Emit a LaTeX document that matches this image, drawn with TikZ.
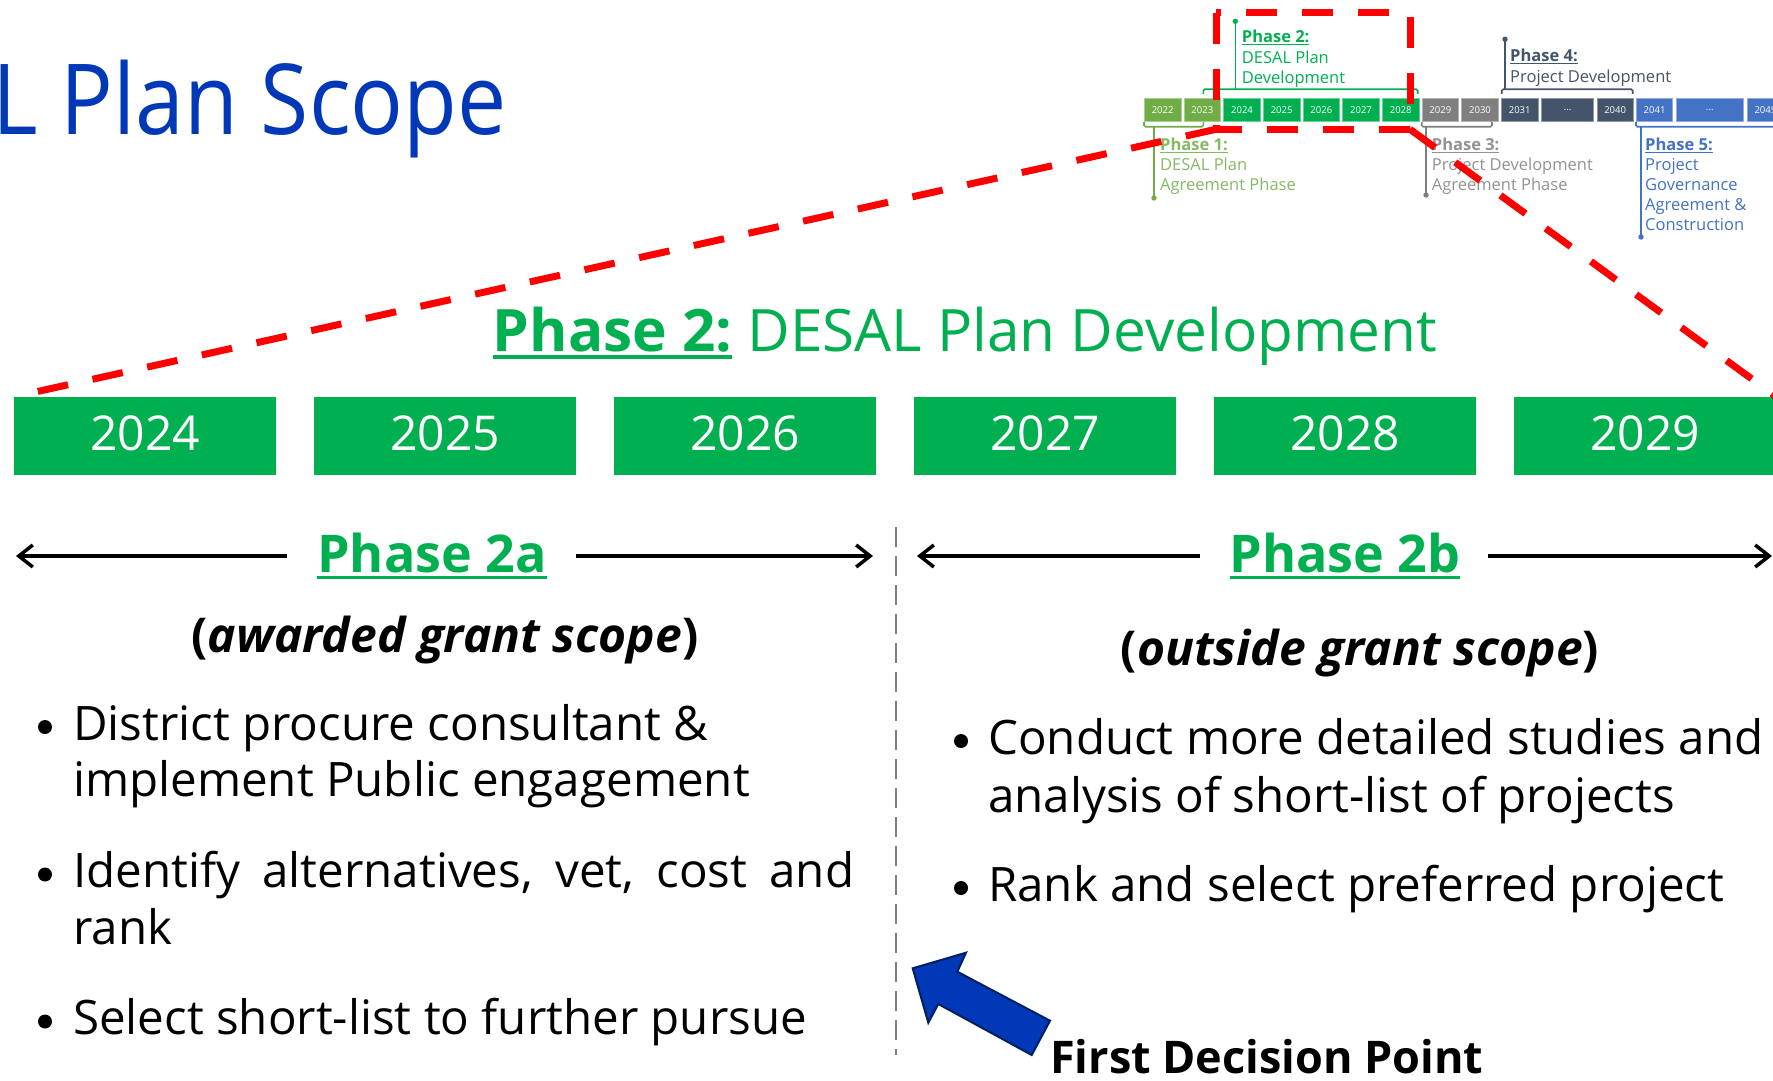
\documentclass[tikz,border=0pt]{standalone}
\usepackage{fontspec}
\setmainfont{Open Sans}
\usepackage{graphicx}
\usetikzlibrary{arrows.meta}
\definecolor{pgreen}{RGB}{0,176,80}
\definecolor{pholive}{RGB}{112,173,71}
\definecolor{mgray}{RGB}{127,127,127}
\definecolor{slate}{RGB}{68,84,106}
\definecolor{mblue}{RGB}{68,114,196}
\definecolor{tblue}{RGB}{0,56,184}
\definecolor{navy}{RGB}{0,32,96}
\newcommand\myul[1]{\setbox0=\hbox{#1}\rlap{\rule[-0.13em]{\wd0}{0.055em}}\box0\relax}
\begin{document}
\begin{tikzpicture}[x=1pt,y=-1pt,
  yearbox/.style={fill=pgreen, text=white, minimum width=262pt, minimum height=78pt, inner sep=0pt, font=\fontsize{48}{58}\selectfont, text depth=6pt},
  mbox/.style={minimum height=22.5pt, inner sep=0pt, anchor=west, text=white, font=\fontsize{9.5}{11}\selectfont, fill=#1, draw=#1!60!white, line width=0.8pt},
  mlab/.style={anchor=base west, inner sep=0pt, font=\fontsize{16.5}{20}\selectfont},
  body/.style={anchor=base west, inner sep=0pt, font=\fontsize{47.5}{57}\selectfont},
  bul/.style={circle, fill=black, inner sep=0pt, minimum size=14pt},
  harrow/.style={line width=3.5pt, -{Straight Barb[length=14pt,width=22pt]}},
  reddash/.style={red, line width=7pt, dash pattern=on 31pt off 25pt},
  stem/.style={line width=1.6pt},
  bracket/.style={line width=1.6pt, rounded corners=1.5pt},
]
\useasboundingbox (0,0) rectangle (1773,1081);
\fill[white] (0,0) rectangle (1773,1081);

% ---------- mini timeline ----------
\foreach \yr/\c [count=\i from 0] in {2022/pholive,2023/pholive,2024/pgreen,2025/pgreen,2026/pgreen,2027/pgreen,2028/pgreen,2029/mgray,2030/mgray,2031/slate}
  \node[mbox=\c, minimum width=36.5pt] (m\yr) at ({1144+39.67*\i},109.75) {\yr};
\node[mbox=slate, minimum width=52.3pt] (mdots1) at (1541,109.75) {...};
\node[mbox=slate, minimum width=36pt] (m2040) at (1596.7,109.75) {2040};
\node[mbox=mblue, minimum width=36.3pt] (m2041) at (1636,109.75) {2041};
\node[mbox=mblue, minimum width=66.7pt] (mdots2) at (1676,109.75) {...};
\node[mbox=mblue, minimum width=36.5pt] (m2045) at (1746.7,109.75) {2045};

% brackets and stems
\draw[bracket, pgreen] (1203.3,94) -- (1203.3,89.3) -- (1417.7,89.3) -- (1417.7,94);
\draw[stem, pgreen] (1235.3,89.3) -- (1235.3,21.3);
\fill[pgreen] (1235.3,21.3) circle (2.7);
\draw[bracket, pholive] (1144,122) -- (1144,126.7) -- (1203.3,126.7) -- (1203.3,122);
\draw[stem, pholive] (1154,126.7) -- (1154,198);
\fill[pholive] (1154,198) circle (2.7);
\draw[bracket, mgray] (1421.7,122) -- (1421.7,126.7) -- (1492,126.7) -- (1492,122);
\draw[stem, mgray] (1426,126.7) -- (1426,195);
\fill[mgray] (1426,195) circle (2.7);
\draw[bracket, slate] (1501.7,94) -- (1501.7,89.3) -- (1632.7,89.3) -- (1632.7,94);
\draw[stem, slate] (1505,89.3) -- (1505,39.3);
\fill[slate] (1505,39.3) circle (2.7);
\draw[bracket, mblue] (1636,122) -- (1636,126.7) -- (1790,126.7);
\draw[stem, mblue] (1641,126.7) -- (1641,237);
\fill[mblue] (1641,237) circle (2.7);

% mini labels
\node[mlab, text=pgreen] (mp2a) at (1241.7,42.7) {\myul{\textbf{Phase 2:}}};
\node[mlab, text=pgreen] (mp2b) at (1241.7,63.3) {DESAL Plan};
\node[mlab, text=pgreen] (mp2c) at (1241.7,83.3) {Development};
\node[mlab, text=pholive!85!white] (mp1a) at (1160,150.7) {\myul{\textbf{Phase 1:}}};
\node[mlab, text=pholive!85!white] (mp1b) at (1160,170.7) {DESAL Plan};
\node[mlab, text=pholive!85!white] (mp1c) at (1160,190.7) {Agreement Phase};
\node[mlab, text=mgray!85!white] (mp3a) at (1431.7,150.7) {\myul{\textbf{Phase 3:}}};
\node[mlab, text=mgray!85!white] (mp3b) at (1431.7,170.7) {Project Development};
\node[mlab, text=mgray!85!white] (mp3c) at (1431.7,190.7) {Agreement Phase};
\node[mlab, text=slate] (mp4a) at (1510,62) {\myul{\textbf{Phase 4:}}};
\node[mlab, text=slate] (mp4b) at (1510,82) {Project Development};
\node[mlab, text=mblue] (mp5a) at (1645,150.7) {\myul{\textbf{Phase 5:}}};
\node[mlab, text=mblue] (mp5b) at (1645,170.7) {Project};
\node[mlab, text=mblue] (mp5c) at (1645,190.7) {Governance};
\node[mlab, text=mblue] (mp5d) at (1645,210.7) {Agreement \&};
\node[mlab, text=mblue] (mp5e) at (1645,230.7) {Construction};

% ---------- title ----------
\node[anchor=base west, inner sep=0pt, text=tblue, font=\fontsize{98}{110}\selectfont] (title) at (-8,134) {\scalebox{0.895}[1]{L Plan Scope}};

% ---------- main phase title ----------
\node[anchor=base, inner sep=0pt, text=pgreen, font=\fontsize{58.5}{70}\selectfont] (ptitle) at (965,351) {\myul{\textbf{Phase 2:}} DESAL Plan Development};

% ---------- year boxes ----------
\foreach \yr [count=\i from 0] in {2024,2025,2026,2027,2028,2029}
  \node[yearbox] (y\yr) at ({145+300*\i},436) {\yr};

% ---------- phase 2a / 2b ----------
\node[anchor=base, inner sep=0pt, text=pgreen, font=\bfseries\fontsize{52}{62}\selectfont] (p2a) at (432,572.5) {\myul{Phase 2a}};
\node[anchor=base, inner sep=0pt, text=pgreen, font=\bfseries\fontsize{52}{62}\selectfont] (p2b) at (1345,572.5) {\myul{Phase 2b}};
\coordinate (a1s) at (287,556); \coordinate (a1e) at (16,556);
\coordinate (a2s) at (576,556); \coordinate (a2e) at (873,556);
\coordinate (b1s) at (1200,556); \coordinate (b1e) at (917,556);
\coordinate (b2s) at (1488,556); \coordinate (b2e) at (1772,556);
\draw[harrow] (a1s) -- (a1e);
\draw[harrow] (a2s) -- (a2e);
\draw[harrow] (b1s) -- (b1e);
\draw[harrow] (b2s) -- (b2e);

\coordinate (dvT) at (896,527); \coordinate (dvB) at (896,1055);
\draw[mgray, line width=2.5pt, dash pattern=on 20pt off 9pt] (dvT) -- (dvB);

\node[anchor=base, inner sep=0pt, font=\fontsize{48}{57}\selectfont] (aw) at (445,652) {\textbf{(}\textbf{\textit{awarded grant scope}}\textbf{)}};
\node[anchor=base, inner sep=0pt, font=\fontsize{48}{57}\selectfont] (ou) at (1360,665) {\textbf{(}\textbf{\textit{outside grant scope}}\textbf{)}};

% ---------- bullets ----------
\node[body] (l1) at (73,740) {District procure consultant \&};
\node[body] (l2) at (73,796.5) {implement Public engagement};
\node[body] (l3) at (73,887.5) {\hbox to 781pt{Identify\hfill alternatives,\hfill vet,\hfill cost\hfill and}};
\node[body] (l4) at (73,944) {rank};
\node[body] (l5) at (73,1034.5) {Select short-list to further pursue};
\node[bul] (bl1) at (45,727) {};
\node[bul] (bl2) at (45,874.5) {};
\node[bul] (bl3) at (45,1021.5) {};

\node[body] (r1) at (988,754) {Conduct more detailed studies and};
\node[body] (r2) at (988,812) {analysis of short-list of projects};
\node[body] (r3) at (988,901) {Rank and select preferred project};
\node[bul] (br1) at (961,741) {};
\node[bul] (br2) at (961,888) {};

% ---------- first decision point ----------
\filldraw[fill=tblue, draw=navy, line width=2pt, line join=miter]
  (912.7,968.3) -- (928.3,1022.7) -- (938.3,1004) -- (1031.7,1055) -- (1050,1020.7) -- (957.3,971.7) -- (966,952.7) -- cycle;
\node[anchor=base west, inner sep=0pt, font=\bfseries\fontsize{45}{54}\selectfont] (fdp) at (1050,1073) {First Decision Point};

% ---------- red zoom frame ----------
\coordinate (rTL) at (1216,12.7);
\coordinate (rBR) at (1410,129.3);
\coordinate (rBL) at (1216,129.3);
\draw[reddash] (rTL) rectangle (rBR);
\draw[reddash] (rBL) -- (y2024.north west);
\draw[reddash] (rBR) -- (y2029.north east);
\end{tikzpicture}
\end{document}
